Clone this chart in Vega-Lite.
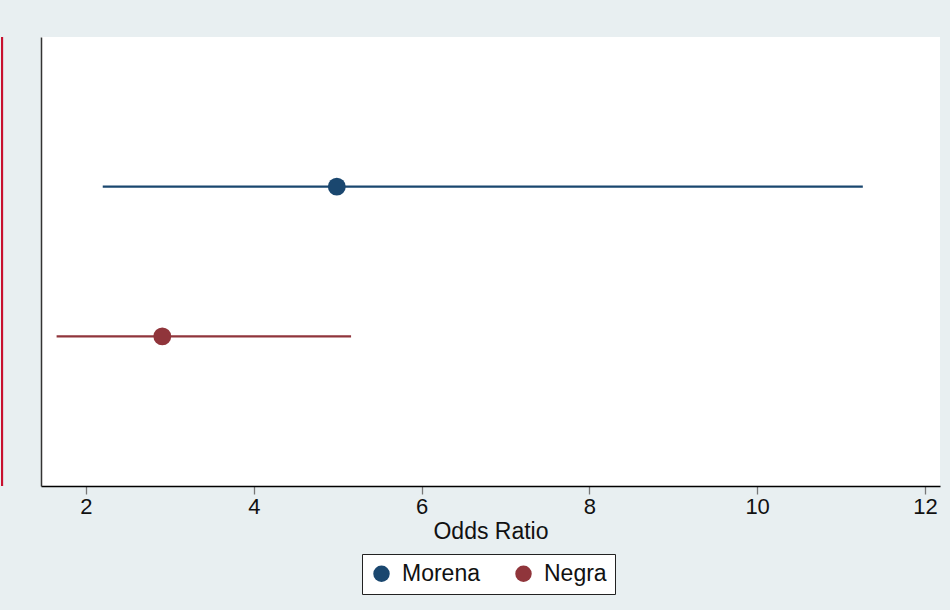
{
  "$schema": "https://vega.github.io/schema/vega-lite/v6.json",
  "width": 899,
  "height": 449,
  "autosize": {"type": "none"},
  "padding": {"left": 41, "top": 37, "right": 10, "bottom": 124},
  "background": "#E8EFF1",
  "config": {
    "view": {"fill": "white", "stroke": null},
    "font": "Liberation Sans"
  },
  "data": {
    "values": [
      {"group": "Morena", "or": 4.99, "lo": 2.2, "hi": 11.26},
      {"group": "Negra", "or": 2.91, "lo": 1.65, "hi": 5.16}
    ]
  },
  "encoding": {
    "y": {
      "field": "group",
      "type": "nominal",
      "scale": {"type": "point", "padding": 1},
      "sort": ["Morena", "Negra"],
      "axis": {
        "title": null,
        "labels": false,
        "ticks": false,
        "grid": false,
        "domainColor": "#333333",
        "domainWidth": 1.5
      }
    }
  },
  "layer": [
    {
      "mark": {"type": "rule", "color": "#C8102E", "strokeWidth": 2, "clip": false},
      "encoding": {
        "x": {"datum": 1, "type": "quantitative"},
        "y": null
      }
    },
    {
      "mark": {"type": "rule", "strokeWidth": 2.2},
      "encoding": {
        "x": {
          "field": "lo",
          "type": "quantitative",
          "scale": {"domain": [1.464, 12.18], "nice": false, "zero": false},
          "axis": {
            "title": "Odds Ratio",
            "values": [2, 4, 6, 8, 10, 12],
            "format": "d",
            "grid": false,
            "domainColor": "#000000",
            "domainWidth": 1.3,
            "tickColor": "#777777",
            "tickSize": 8,
            "tickWidth": 1.3,
            "labelFontSize": 22,
            "labelColor": "#111111",
            "labelPadding": 2,
            "labelFlush": false,
            "titleFontSize": 23,
            "titleFontWeight": "normal",
            "titleColor": "#111111",
            "titlePadding": 3
          }
        },
        "x2": {"field": "hi"},
        "color": {
          "field": "group",
          "type": "nominal",
          "scale": {"domain": ["Morena", "Negra"], "range": ["#1A476F", "#90353B"]}
        }
      }
    },
    {
      "mark": {"type": "point", "filled": true, "opacity": 1, "size": 320, "shape": "circle"},
      "encoding": {
        "x": {"field": "or", "type": "quantitative"},
        "color": {
          "field": "group",
          "type": "nominal",
          "scale": {"domain": ["Morena", "Negra"], "range": ["#1A476F", "#90353B"]},
          "legend": {
            "title": null,
            "orient": "none",
            "direction": "horizontal",
            "legendX": 321,
            "legendY": 517,
            "symbolType": "circle",
            "symbolSize": 270,
            "symbolStrokeWidth": 0,
            "symbolOpacity": 1,
            "labelFontSize": 23,
            "labelColor": "#111111",
            "labelOffset": 9,
            "columnPadding": 32,
            "padding": 8,
            "strokeColor": "#222222",
            "fillColor": "white"
          }
        }
      }
    }
  ]
}
